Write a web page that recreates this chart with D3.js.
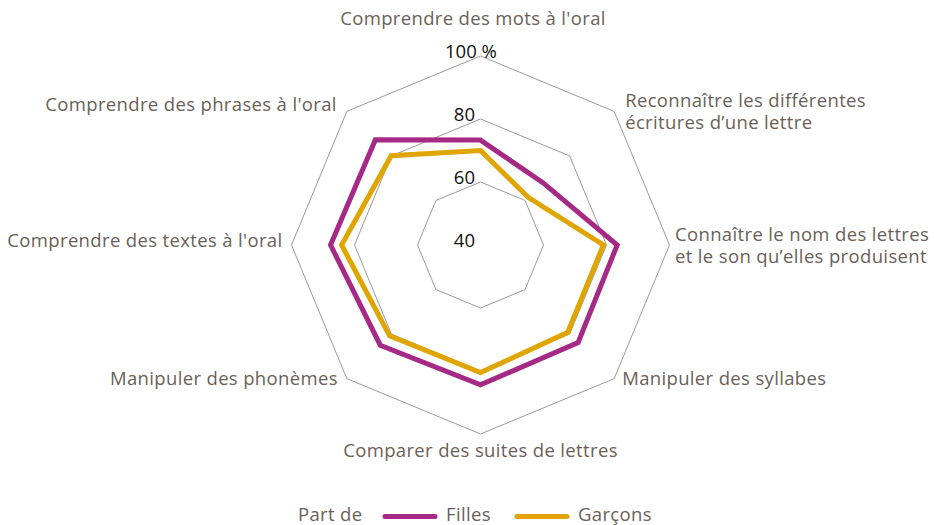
<!DOCTYPE html>
<html>
<head>
<meta charset="utf-8">
<script src="https://cdn.jsdelivr.net/npm/d3@7"></script>
<style>
  html, body { margin: 0; padding: 0; background: #fff; }
  svg { display: block; }
  text { font-family: "Open Sans", "Noto Sans", sans-serif; }
  .lbl { letter-spacing: 0.35px; }
</style>
</head>
<body>
<svg id="chart" width="934" height="525"></svg>
<script>
// ---- Data ----
const categories = [
  ["Comprendre des mots à l'oral"],
  ["Reconnaître les différentes", "écritures d\u2019une lettre"],
  ["Connaître le nom des lettres", "et le son qu\u2019elles produisent"],
  ["Manipuler des syllabes"],
  ["Comparer des suites de lettres"],
  ["Manipuler des phonèmes"],
  ["Comprendre des textes à l'oral"],
  ["Comprendre des phrases à l'oral"]
];
const seriesNames = ["Filles", "Garçons"];
const filles  = [73.3, 68.0, 83.4, 83.8, 84.4, 85.0, 87.6, 87.2];
const garcons = [70.0, 61.4, 79.0, 79.2, 80.5, 80.8, 84.1, 80.1];
const ticks = [40, 60, 80, 100];
const tickLabels = ["40", "60", "80", "100 %"];
const legendTitle = "Part de";

// ---- Layout ----
const colors = ["#A62A85", "#E0A500"];
const labelColor = "#6B5F57";
const fs = 18.5;
const cx = 480.5, cy = 245, R = 189;
const svg = d3.select("#chart");
const g = svg.append("g").attr("transform", `translate(${cx},${cy})`);

const r = d3.scaleLinear().domain([40, 100]).range([0, R]);
const n = categories.length;
const angle = d3.scaleLinear().domain([0, n]).range([0, 2 * Math.PI]);

const pt = (i, v) => {
  const a = angle(i);
  return [r(v) * Math.sin(a), -r(v) * Math.cos(a)];
};

// grid rings
ticks.filter(t => t > 40).forEach(t => {
  const pts = d3.range(n).map(i => pt(i, t));
  g.append("path")
    .attr("d", d3.line().curve(d3.curveLinearClosed)(pts))
    .attr("fill", "none")
    .attr("stroke", "#9a9a9a")
    .attr("stroke-width", 1);
});

// series
[filles, garcons].forEach((vals, s) => {
  const pts = vals.map((v, i) => pt(i, v));
  g.append("path")
    .attr("d", d3.line().curve(d3.curveLinearClosed)(pts))
    .attr("fill", "none")
    .attr("stroke", colors[s])
    .attr("stroke-width", 5)
    .attr("stroke-linejoin", "miter");
});

// tick labels
ticks.forEach((t, k) => {
  const y = -r(t) + 1.5;
  const txt = g.append("text")
    .attr("y", y)
    .attr("font-size", fs)
    .attr("fill", "#111");
  if (t === 100) {
    txt.attr("x", -35.5).attr("text-anchor", "start").text(tickLabels[k]);
  } else {
    txt.attr("x", -5.5).attr("text-anchor", "end").text(tickLabels[k]);
  }
});

// axis labels: offsets [dx, dy, anchor]
const labelLayout = [
  [-7.5, -38, "middle"],
  [11, 0, "start"],
  [5.5, 0, "start"],
  [8, 0, "start"],
  [0, 16, "middle"],
  [-9, 0, "end"],
  [-9, -5, "end"],
  [-10, -7, "end"]
];
const lineH = 22;
categories.forEach((lines, i) => {
  const [vx, vy] = pt(i, 100);
  const [dx, dy, anchor] = labelLayout[i];
  const y0 = vy + dy - (lines.length - 1) * lineH / 2 + 6.5;
  lines.forEach((ln, j) => {
    g.append("text")
      .attr("class", "lbl")
      .attr("text-anchor", anchor)
      .attr("font-size", fs)
      .attr("fill", labelColor)
      .attr("x", vx + dx)
      .attr("y", y0 + j * lineH)
      .text(ln);
  });
});

// legend
const lg = svg.append("g");
lg.append("text").attr("class", "lbl").attr("x", 298).attr("y", 520.5)
  .attr("font-size", fs).attr("fill", labelColor).text(legendTitle);
const legX = [385, 517];
seriesNames.forEach((name, s) => {
  lg.append("line")
    .attr("x1", legX[s]).attr("x2", legX[s] + 50)
    .attr("y1", 516.5).attr("y2", 516.5)
    .attr("stroke", colors[s]).attr("stroke-width", 5)
    .attr("stroke-linecap", "round");
  lg.append("text").attr("class", "lbl").attr("x", legX[s] + 61).attr("y", 520.5)
    .attr("font-size", fs).attr("fill", labelColor).text(name);
});
</script>
</body>
</html>
